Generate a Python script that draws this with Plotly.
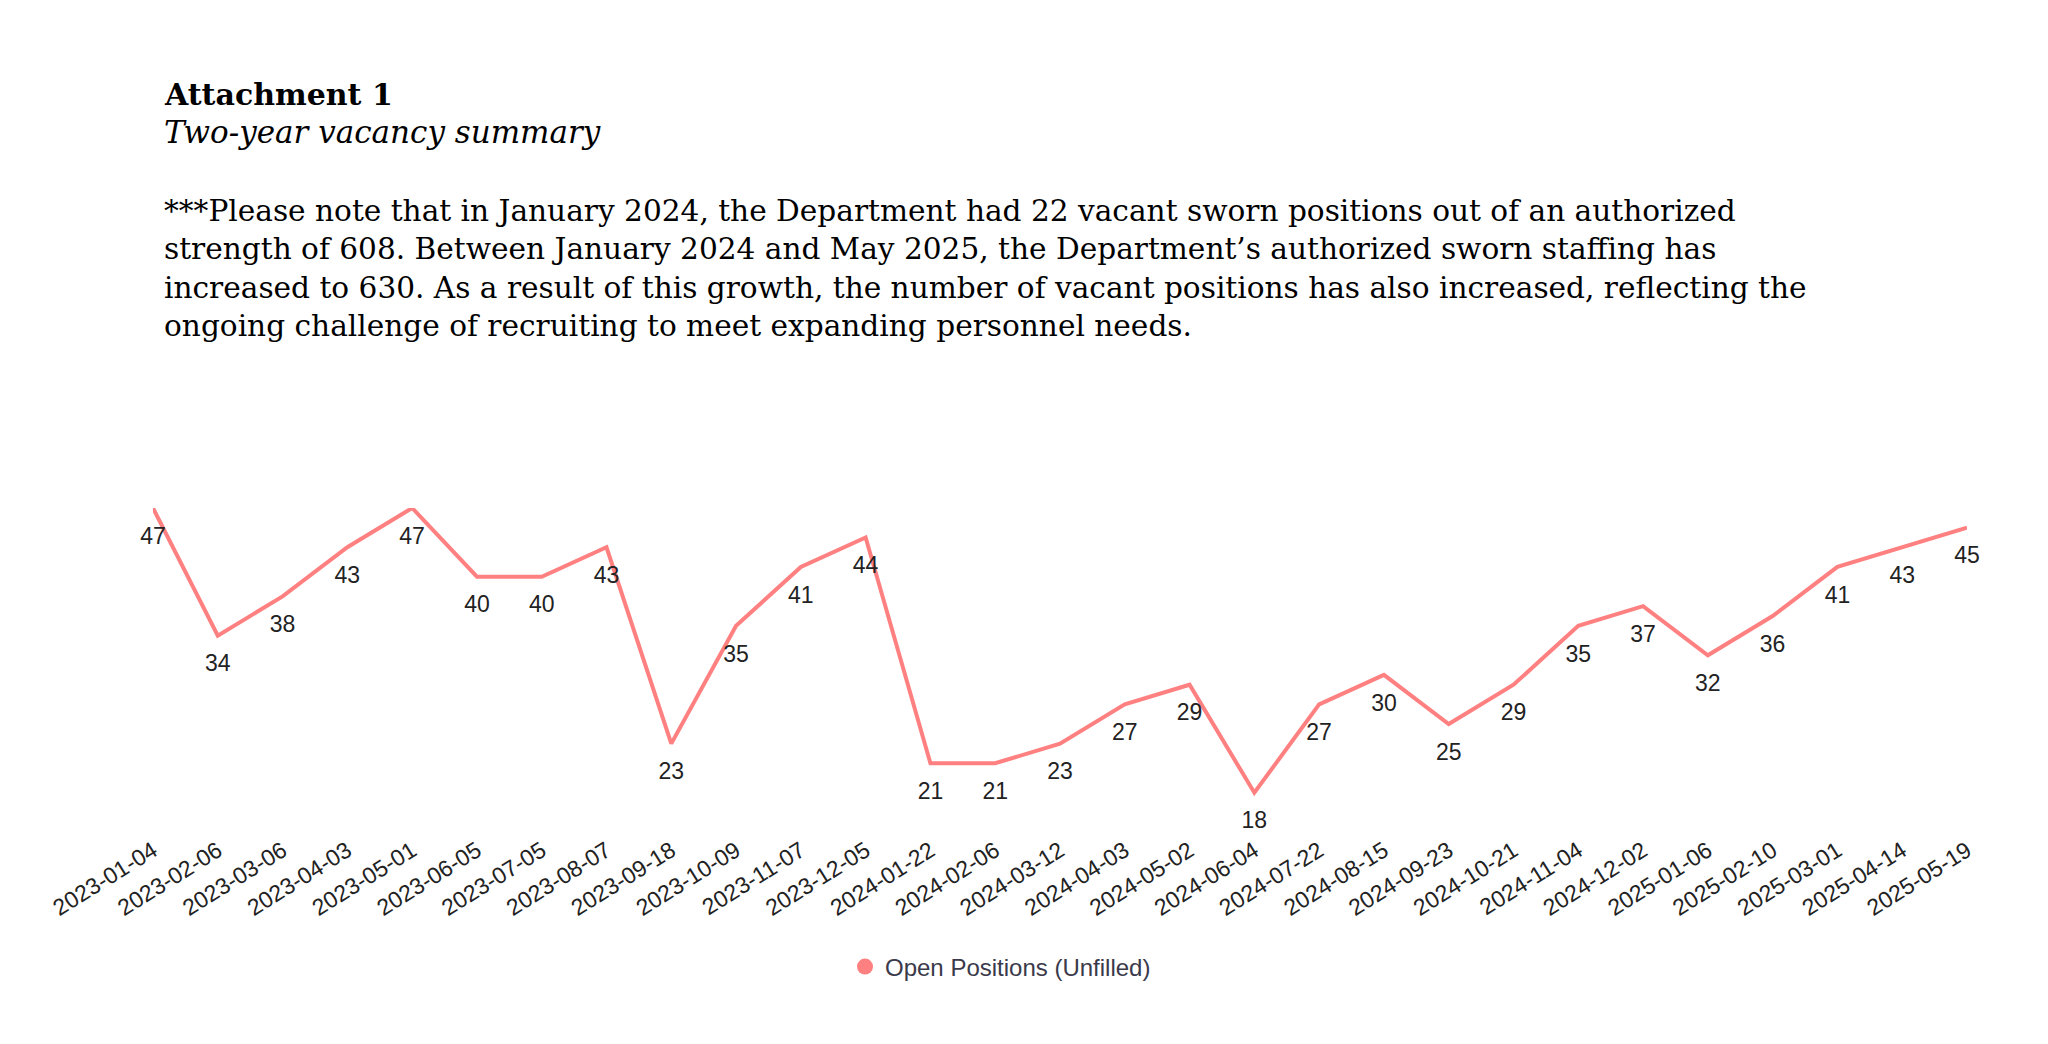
import plotly.graph_objects as go

dates = ["2023-01-04", "2023-02-06", "2023-03-06", "2023-04-03", "2023-05-01", "2023-06-05",
         "2023-07-05", "2023-08-07", "2023-09-18", "2023-10-09", "2023-11-07", "2023-12-05",
         "2024-01-22", "2024-02-06", "2024-03-12", "2024-04-03", "2024-05-02", "2024-06-04",
         "2024-07-22", "2024-08-15", "2024-09-23", "2024-10-21", "2024-11-04", "2024-12-02",
         "2025-01-06", "2025-02-10", "2025-03-01", "2025-04-14", "2025-05-19"]
open_positions = [47, 34, 38, 43, 47, 40, 40, 43, 23, 35, 41, 44, 21, 21, 23, 27, 29, 18,
                  27, 30, 25, 29, 35, 37, 32, 36, 41, 43, 45]

series_name = "Open Positions (Unfilled)"
heading = "Attachment 1"
subheading = "Two-year vacancy summary"
note_lines = [
    "***Please note that in January 2024, the Department had 22 vacant sworn positions out of an authorized",
    "strength of 608. Between January 2024 and May 2025, the Department\u2019s authorized sworn staffing has",
    "increased to 630. As a result of this growth, the number of vacant positions has also increased, reflecting the",
    "ongoing challenge of recruiting to meet expanding personnel needs.",
]

LINE_COLOR = "#ff8080"
W, H = 2048, 1044
L, R, T, B = 153, 81, 508, 212
plot_w = W - L - R
plot_h = H - T - B
y_lo, y_hi = 14, 47


def px_x(p):
    return (p - L) / plot_w


def px_y(p):
    return (H - B - p) / plot_h


fig = go.Figure()
fig.add_trace(go.Scatter(
    x=dates, y=open_positions, mode="lines+markers+text",
    text=[str(v) for v in open_positions], textposition="bottom center",
    textfont=dict(family="Liberation Sans, Arial", size=23, color="#222222"),
    line=dict(color=LINE_COLOR, width=4),
    marker=dict(size=28, color="rgba(0,0,0,0)", line=dict(width=0)),
    cliponaxis=False, showlegend=False, name=series_name, hoverinfo="skip",
))
fig.add_trace(go.Scatter(
    x=[None], y=[None], mode="markers", name=series_name,
    marker=dict(color=LINE_COLOR, size=16, symbol="circle"),
    showlegend=True,
))

serif = "DejaVu Serif, Georgia, serif"
annots = [
    dict(text="<b>" + heading + "</b>", x=px_x(162), y=px_y(94), size=30),
    dict(text="<i>" + subheading + "</i>", x=px_x(162), y=px_y(132), size=31),
]
line_y = [211, 249, 288, 326]
for t, yy in zip(note_lines, line_y):
    annots.append(dict(text=t, x=px_x(162), y=px_y(yy), size=29.6))

for a in annots:
    fig.add_annotation(
        text=a["text"], x=a["x"], y=a["y"], xref="paper", yref="paper",
        xanchor="left", yanchor="middle", showarrow=False, align="left",
        font=dict(family=serif, size=a["size"], color="#000000"),
    )

fig.update_layout(
    width=W, height=H,
    margin=dict(l=L, r=R, t=T, b=B, pad=0),
    paper_bgcolor="white", plot_bgcolor="white",
    font=dict(family="Liberation Sans, Arial", color="#333333"),
    xaxis=dict(type="category", range=[0, len(dates) - 1], showgrid=False, zeroline=False,
               showline=False, ticks="", tickangle=-32,
               tickfont=dict(family="Liberation Sans, Arial", size=23, color="#222222")),
    yaxis=dict(range=[y_lo, y_hi], showgrid=False, zeroline=False, showline=False,
               showticklabels=False, ticks=""),
    legend=dict(orientation="h", x=px_x(845), y=px_y(967), xanchor="left", yanchor="middle",
                font=dict(family="Liberation Sans, Arial", size=24, color="#3a3a4a"),
                itemwidth=30, bgcolor="rgba(0,0,0,0)"),
    hovermode=False,
)

fig.write_html("out.html", config={"displayModeBar": False},
               post_script="document.body.style.margin='0';")
